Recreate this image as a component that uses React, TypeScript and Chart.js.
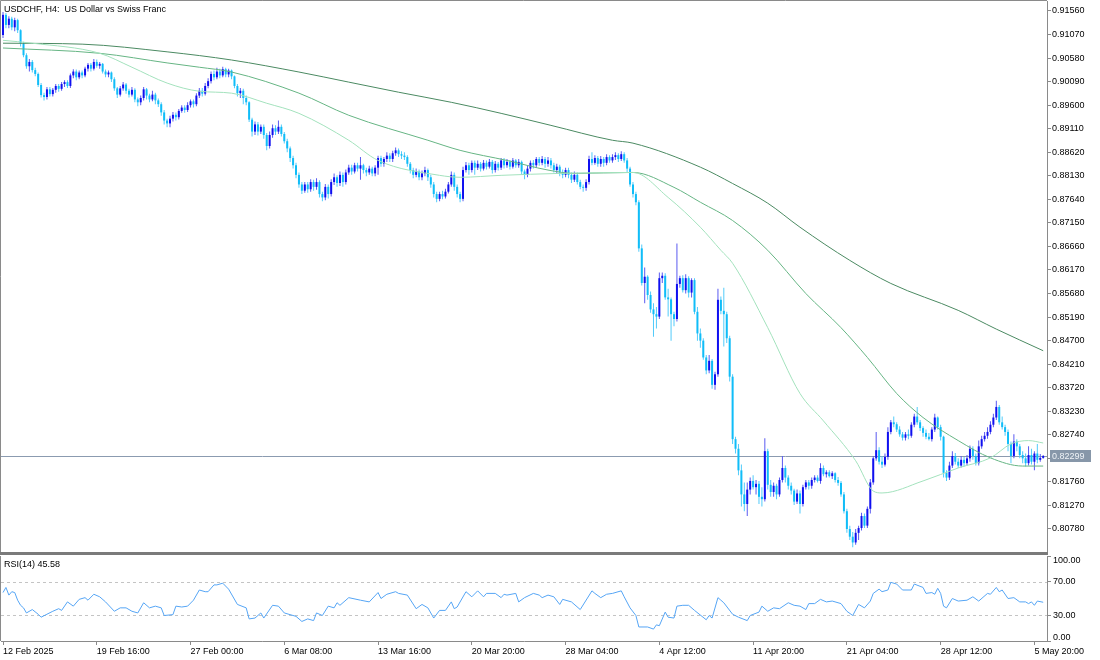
import React, { useEffect, useRef } from "react";
import { Chart, registerables } from "chart.js";

Chart.register(...registerables);

const SYMBOL_TITLE = "USDCHF, H4:  US Dollar vs Swiss Franc";
const RSI_TITLE = "RSI(14) 45.58";
const CURRENT_PRICE = 0.82299;

const opens = [
  0.9106,0.9148,0.9127,0.9140,0.9122,0.9137,0.9116,0.9089,0.9064,0.9041,
  0.9050,0.9033,0.9025,0.9002,0.8981,0.8977,0.8993,0.8983,0.8992,0.9000,
  0.8994,0.9004,0.9008,0.9000,0.9022,0.9030,0.9018,0.9028,0.9022,0.9036,
  0.9044,0.9036,0.9050,0.9042,0.9046,0.9030,0.9024,0.9028,0.9014,0.8995,
  0.8982,0.8995,0.9003,0.8990,0.8982,0.8992,0.8972,0.8966,0.8975,0.8993,
  0.8980,0.8972,0.8982,0.8970,0.8962,0.8945,0.8928,0.8922,0.8932,0.8940,
  0.8935,0.8948,0.8955,0.8950,0.8960,0.8968,0.8962,0.8980,0.8990,0.8984,
  0.9000,0.9010,0.9025,0.9018,0.9030,0.9022,0.9035,0.9024,0.9032,0.9020,
  0.9000,0.8985,0.8990,0.8975,0.8966,0.8930,0.8905,0.8920,0.8905,0.8915,
  0.8898,0.8875,0.8898,0.8912,0.8905,0.8915,0.8900,0.8885,0.8870,0.8850,
  0.8835,0.8815,0.8795,0.8782,0.8795,0.8785,0.8800,0.8790,0.8800,0.8775,
  0.8768,0.8790,0.8775,0.8800,0.8810,0.8798,0.8815,0.8800,0.8820,0.8830,
  0.8822,0.8835,0.8828,0.8835,0.8825,0.8820,0.8828,0.8818,0.8830,0.8850,
  0.8838,0.8848,0.8855,0.8848,0.8860,0.8866,0.8858,0.8855,0.8852,0.8838,
  0.8825,0.8815,0.8822,0.8810,0.8818,0.8825,0.8810,0.8795,0.8775,0.8765,
  0.8775,0.8770,0.8780,0.8795,0.8815,0.8790,0.8775,0.8765,0.8825,0.8835,
  0.8825,0.8840,0.8830,0.8838,0.8828,0.8840,0.8832,0.8842,0.8825,0.8838,
  0.8830,0.8845,0.8835,0.8842,0.8832,0.8845,0.8835,0.8842,0.8822,0.8815,
  0.8828,0.8840,0.8835,0.8848,0.8840,0.8848,0.8838,0.8845,0.8835,0.8825,
  0.8832,0.8820,0.8815,0.8825,0.8815,0.8805,0.8815,0.8800,0.8790,0.8788,
  0.8800,0.8848,0.8840,0.8850,0.8838,0.8848,0.8840,0.8852,0.8845,0.8852,
  0.8856,0.8848,0.8858,0.8845,0.8828,0.8795,0.8775,0.8758,0.8662,0.8590,
  0.8603,0.8565,0.8535,0.8525,0.8520,0.8600,0.8605,0.8560,0.8556,0.8525,
  0.8515,0.8588,0.8600,0.8575,0.8600,0.8570,0.8596,0.8530,0.8485,0.8470,
  0.8435,0.8408,0.8428,0.8378,0.8400,0.8555,0.8532,0.8525,0.8475,0.8395,
  0.8265,0.8245,0.8200,0.8150,0.8130,0.8160,0.8178,0.8165,0.8172,0.8145,
  0.8140,0.8240,0.8170,0.8155,0.8168,0.8150,0.8180,0.8205,0.8185,0.8168,
  0.8158,0.8135,0.8152,0.8130,0.8165,0.8175,0.8168,0.8180,0.8185,0.8178,
  0.8205,0.8192,0.8196,0.8188,0.8194,0.8180,0.8174,0.8150,0.8115,0.8078,
  0.8062,0.8050,0.8070,0.8080,0.8105,0.8085,0.8120,0.8175,0.8225,0.8242,
  0.8218,0.8212,0.8228,0.8280,0.8300,0.8296,0.8285,0.8275,0.8268,0.8275,
  0.8272,0.8295,0.8312,0.8300,0.8288,0.8278,0.8270,0.8265,0.8285,0.8310,
  0.8290,0.8270,0.8195,0.8185,0.8210,0.8230,0.8218,0.8210,0.8222,0.8215,
  0.8225,0.8245,0.8230,0.8215,0.8250,0.8265,0.8272,0.8280,0.8295,0.8310,
  0.8332,0.8300,0.8290,0.8280,0.8255,0.8230,0.8260,0.8250,0.8232,0.8225,
  0.8215,0.8232,0.8218,0.8235,0.8222,0.8226,
];

const highs = [
  0.9154,0.9152,0.9145,0.9144,0.9142,0.9140,0.9118,0.9092,0.9068,0.9056,
  0.9054,0.9038,0.9028,0.9006,0.8986,0.8998,0.8998,0.8996,0.9004,0.9004,
  0.9008,0.9012,0.9012,0.9026,0.9035,0.9034,0.9032,0.9032,0.9040,0.9048,
  0.9048,0.9056,0.9055,0.9050,0.9048,0.9034,0.9032,0.9030,0.9018,0.8998,
  0.9000,0.9008,0.9006,0.8994,0.8998,0.8995,0.8976,0.8980,0.8998,0.8996,
  0.8984,0.8990,0.8986,0.8974,0.8966,0.8950,0.8932,0.8938,0.8946,0.8945,
  0.8952,0.8960,0.8960,0.8966,0.8972,0.8972,0.8985,0.8996,0.8996,0.9006,
  0.9016,0.9030,0.9032,0.9038,0.9036,0.9040,0.9038,0.9036,0.9034,0.9022,
  0.9004,0.8996,0.8994,0.8980,0.8968,0.8934,0.8926,0.8925,0.8920,0.8920,
  0.8902,0.8905,0.8920,0.8918,0.8928,0.8920,0.8904,0.8890,0.8874,0.8855,
  0.8840,0.8820,0.8800,0.8800,0.8800,0.8806,0.8805,0.8808,0.8804,0.8780,
  0.8796,0.8795,0.8806,0.8818,0.8814,0.8822,0.8820,0.8826,0.8836,0.8836,
  0.8840,0.8840,0.8852,0.8838,0.8830,0.8834,0.8832,0.8835,0.8855,0.8855,
  0.8852,0.8862,0.8860,0.8865,0.8872,0.8870,0.8864,0.8862,0.8856,0.8842,
  0.8830,0.8828,0.8826,0.8824,0.8832,0.8828,0.8815,0.8800,0.8780,0.8780,
  0.8782,0.8786,0.8800,0.8822,0.8820,0.8795,0.8780,0.8832,0.8842,0.8840,
  0.8845,0.8845,0.8845,0.8842,0.8846,0.8845,0.8848,0.8846,0.8844,0.8842,
  0.8850,0.8850,0.8848,0.8846,0.8850,0.8848,0.8848,0.8845,0.8826,0.8835,
  0.8845,0.8846,0.8852,0.8852,0.8854,0.8852,0.8852,0.8850,0.8840,0.8838,
  0.8836,0.8826,0.8830,0.8830,0.8820,0.8822,0.8820,0.8805,0.8795,0.8806,
  0.8855,0.8862,0.8856,0.8854,0.8854,0.8852,0.8858,0.8856,0.8858,0.8862,
  0.8860,0.8864,0.8862,0.8850,0.8832,0.8800,0.8780,0.8762,0.8670,0.8622,
  0.8606,0.8572,0.8548,0.8540,0.8612,0.8612,0.8610,0.8578,0.8560,0.8530,
  0.8672,0.8605,0.8606,0.8608,0.8604,0.8600,0.8600,0.8540,0.8495,0.8475,
  0.8440,0.8440,0.8432,0.8405,0.8578,0.8562,0.8580,0.8530,0.8480,0.8400,
  0.8270,0.8255,0.8212,0.8175,0.8175,0.8185,0.8190,0.8180,0.8178,0.8165,
  0.8267,0.8245,0.8180,0.8175,0.8172,0.8185,0.8230,0.8210,0.8190,0.8175,
  0.8162,0.8160,0.8158,0.8170,0.8180,0.8180,0.8185,0.8190,0.8190,0.8215,
  0.8210,0.8200,0.8200,0.8198,0.8196,0.8186,0.8178,0.8155,0.8120,0.8085,
  0.8072,0.8078,0.8085,0.8112,0.8110,0.8125,0.8182,0.8230,0.8280,0.8248,
  0.8230,0.8235,0.8290,0.8305,0.8312,0.8300,0.8292,0.8280,0.8280,0.8285,
  0.8300,0.8318,0.8332,0.8305,0.8292,0.8285,0.8278,0.8290,0.8318,0.8312,
  0.8295,0.8272,0.8200,0.8218,0.8240,0.8236,0.8225,0.8230,0.8228,0.8232,
  0.8252,0.8250,0.8235,0.8262,0.8272,0.8280,0.8290,0.8302,0.8318,0.8345,
  0.8336,0.8312,0.8295,0.8285,0.8260,0.8275,0.8265,0.8255,0.8240,0.8235,
  0.8250,0.8245,0.8240,0.8255,0.8234,0.8232,
];

const lows = [
  0.9100,0.9120,0.9120,0.9116,0.9114,0.9110,0.9082,0.9060,0.9036,0.9030,
  0.9028,0.9020,0.8998,0.8976,0.8970,0.8972,0.8978,0.8978,0.8986,0.8988,
  0.8990,0.8998,0.8996,0.8996,0.9016,0.9012,0.9014,0.9016,0.9018,0.9030,
  0.9030,0.9032,0.9038,0.9036,0.9026,0.9018,0.9018,0.9008,0.8990,0.8975,
  0.8978,0.8990,0.8984,0.8976,0.8978,0.8966,0.8958,0.8960,0.8970,0.8972,
  0.8966,0.8968,0.8962,0.8956,0.8938,0.8920,0.8914,0.8914,0.8926,0.8928,
  0.8930,0.8944,0.8944,0.8946,0.8955,0.8955,0.8958,0.8975,0.8978,0.8980,
  0.8995,0.9005,0.9012,0.9014,0.9016,0.9018,0.9018,0.9018,0.9014,0.8995,
  0.8978,0.8975,0.8962,0.8960,0.8925,0.8895,0.8898,0.8897,0.8900,0.8890,
  0.8866,0.8870,0.8892,0.8898,0.8900,0.8895,0.8880,0.8862,0.8842,0.8828,
  0.8808,0.8788,0.8775,0.8778,0.8778,0.8780,0.8782,0.8784,0.8768,0.8760,
  0.8762,0.8766,0.8770,0.8794,0.8790,0.8792,0.8790,0.8795,0.8815,0.8815,
  0.8818,0.8822,0.8805,0.8818,0.8812,0.8815,0.8812,0.8812,0.8815,0.8832,
  0.8832,0.8842,0.8842,0.8842,0.8855,0.8852,0.8848,0.8846,0.8832,0.8818,
  0.8808,0.8810,0.8804,0.8804,0.8812,0.8802,0.8788,0.8768,0.8758,0.8760,
  0.8764,0.8766,0.8776,0.8790,0.8782,0.8768,0.8758,0.8760,0.8820,0.8815,
  0.8820,0.8815,0.8825,0.8822,0.8824,0.8826,0.8828,0.8818,0.8820,0.8824,
  0.8825,0.8828,0.8830,0.8826,0.8828,0.8830,0.8830,0.8815,0.8806,0.8810,
  0.8822,0.8828,0.8830,0.8834,0.8835,0.8830,0.8832,0.8828,0.8820,0.8818,
  0.8812,0.8808,0.8810,0.8808,0.8798,0.8800,0.8795,0.8785,0.8780,0.8782,
  0.8795,0.8835,0.8836,0.8832,0.8832,0.8832,0.8835,0.8840,0.8840,0.8846,
  0.8842,0.8844,0.8840,0.8820,0.8790,0.8768,0.8752,0.8655,0.8585,0.8548,
  0.8555,0.8528,0.8478,0.8495,0.8515,0.8590,0.8555,0.8520,0.8470,0.8500,
  0.8510,0.8580,0.8570,0.8568,0.8560,0.8560,0.8525,0.8470,0.8455,0.8430,
  0.8400,0.8402,0.8370,0.8368,0.8395,0.8525,0.8458,0.8465,0.8385,0.8255,
  0.8235,0.8190,0.8125,0.8115,0.8105,0.8150,0.8160,0.8150,0.8130,0.8125,
  0.8135,0.8160,0.8145,0.8145,0.8140,0.8145,0.8175,0.8175,0.8160,0.8150,
  0.8128,0.8130,0.8110,0.8125,0.8160,0.8160,0.8162,0.8175,0.8175,0.8172,
  0.8188,0.8185,0.8185,0.8182,0.8175,0.8168,0.8145,0.8110,0.8070,0.8055,
  0.8040,0.8045,0.8055,0.8075,0.8080,0.8080,0.8110,0.8170,0.8220,0.8212,
  0.8205,0.8208,0.8222,0.8275,0.8290,0.8280,0.8270,0.8262,0.8262,0.8265,
  0.8268,0.8290,0.8295,0.8282,0.8270,0.8265,0.8262,0.8260,0.8280,0.8285,
  0.8262,0.8185,0.8178,0.8180,0.8205,0.8212,0.8205,0.8206,0.8208,0.8210,
  0.8218,0.8222,0.8210,0.8210,0.8245,0.8260,0.8266,0.8275,0.8290,0.8305,
  0.8295,0.8285,0.8272,0.8240,0.8215,0.8225,0.8240,0.8225,0.8215,0.8208,
  0.8210,0.8212,0.8200,0.8215,0.8218,0.8224,
];

const closes = [
  0.9148,0.9127,0.9140,0.9122,0.9137,0.9116,0.9089,0.9064,0.9041,0.9050,
  0.9033,0.9025,0.9002,0.8981,0.8977,0.8993,0.8983,0.8992,0.9000,0.8994,
  0.9004,0.9008,0.9000,0.9022,0.9030,0.9018,0.9028,0.9022,0.9036,0.9044,
  0.9036,0.9050,0.9042,0.9046,0.9030,0.9024,0.9028,0.9014,0.8995,0.8982,
  0.8995,0.9003,0.8990,0.8982,0.8992,0.8972,0.8966,0.8975,0.8993,0.8980,
  0.8972,0.8982,0.8970,0.8962,0.8945,0.8928,0.8922,0.8932,0.8940,0.8935,
  0.8948,0.8955,0.8950,0.8960,0.8968,0.8962,0.8980,0.8990,0.8984,0.9000,
  0.9010,0.9025,0.9018,0.9030,0.9022,0.9035,0.9024,0.9032,0.9020,0.9000,
  0.8985,0.8990,0.8975,0.8966,0.8930,0.8905,0.8920,0.8905,0.8915,0.8898,
  0.8875,0.8898,0.8912,0.8905,0.8915,0.8900,0.8885,0.8870,0.8850,0.8835,
  0.8815,0.8795,0.8782,0.8795,0.8785,0.8800,0.8790,0.8800,0.8775,0.8768,
  0.8790,0.8775,0.8800,0.8810,0.8798,0.8815,0.8800,0.8820,0.8830,0.8822,
  0.8835,0.8828,0.8835,0.8825,0.8820,0.8828,0.8818,0.8830,0.8850,0.8838,
  0.8848,0.8855,0.8848,0.8860,0.8866,0.8858,0.8855,0.8852,0.8838,0.8825,
  0.8815,0.8822,0.8810,0.8818,0.8825,0.8810,0.8795,0.8775,0.8765,0.8775,
  0.8770,0.8780,0.8795,0.8815,0.8790,0.8775,0.8765,0.8825,0.8835,0.8825,
  0.8840,0.8830,0.8838,0.8828,0.8840,0.8832,0.8842,0.8825,0.8838,0.8830,
  0.8845,0.8835,0.8842,0.8832,0.8845,0.8835,0.8842,0.8822,0.8815,0.8828,
  0.8840,0.8835,0.8848,0.8840,0.8848,0.8838,0.8845,0.8835,0.8825,0.8832,
  0.8820,0.8815,0.8825,0.8815,0.8805,0.8815,0.8800,0.8790,0.8788,0.8800,
  0.8848,0.8840,0.8850,0.8838,0.8848,0.8840,0.8852,0.8845,0.8852,0.8856,
  0.8848,0.8858,0.8845,0.8828,0.8795,0.8775,0.8758,0.8662,0.8590,0.8603,
  0.8565,0.8535,0.8525,0.8520,0.8600,0.8605,0.8560,0.8556,0.8525,0.8515,
  0.8588,0.8600,0.8575,0.8600,0.8570,0.8596,0.8530,0.8485,0.8470,0.8435,
  0.8408,0.8428,0.8378,0.8400,0.8555,0.8532,0.8525,0.8475,0.8395,0.8265,
  0.8245,0.8200,0.8150,0.8130,0.8160,0.8178,0.8165,0.8172,0.8145,0.8140,
  0.8240,0.8170,0.8155,0.8168,0.8150,0.8180,0.8205,0.8185,0.8168,0.8158,
  0.8135,0.8152,0.8130,0.8165,0.8175,0.8168,0.8180,0.8185,0.8178,0.8205,
  0.8192,0.8196,0.8188,0.8194,0.8180,0.8174,0.8150,0.8115,0.8078,0.8062,
  0.8050,0.8070,0.8080,0.8105,0.8085,0.8120,0.8175,0.8225,0.8242,0.8218,
  0.8212,0.8228,0.8280,0.8300,0.8296,0.8285,0.8275,0.8268,0.8275,0.8272,
  0.8295,0.8312,0.8300,0.8288,0.8278,0.8270,0.8265,0.8285,0.8310,0.8290,
  0.8270,0.8195,0.8185,0.8210,0.8230,0.8218,0.8210,0.8222,0.8215,0.8225,
  0.8245,0.8230,0.8215,0.8250,0.8265,0.8272,0.8280,0.8295,0.8310,0.8332,
  0.8300,0.8290,0.8280,0.8255,0.8230,0.8260,0.8250,0.8232,0.8225,0.8215,
  0.8232,0.8218,0.8235,0.8222,0.8226,0.82299,
];

// Moving averages, sampled at bar indices
const maSlowIdx = [0,27,56,78,101,118,135,153,170,187,208,215,238,249,261,272,289,303,326,339,355];
const maSlowVal = [0.9089,0.9087,0.9071,0.9054,0.9029,0.9008,0.8987,0.8966,0.8943,0.8918,0.8887,0.8881,0.8831,0.8797,0.8756,0.8706,0.8637,0.8589,0.8533,0.8494,0.8449];

const maMidIdx = [0,33,56,67,78,101,118,145,156,172,186,195,215,229,238,249,261,274,286,295,305,314,326,337,348,355];
const maMidVal = [0.9079,0.9068,0.9048,0.9039,0.9029,0.8985,0.8939,0.8887,0.8866,0.8845,0.8825,0.8818,0.8820,0.8789,0.8758,0.8720,0.8658,0.8568,0.8497,0.8435,0.8360,0.8310,0.8262,0.8226,0.8209,0.8209];

const maFastIdx = [0,10,33,44,56,67,78,90,101,118,128,149,156,170,190,215,227,238,245,249,261,272,280,291,297,300,314,326,337,344,350,355];
const maFastVal = [0.9095,0.9089,0.9068,0.9039,0.9006,0.8989,0.8985,0.8964,0.8943,0.8887,0.8845,0.8814,0.8810,0.8814,0.8818,0.8820,0.8768,0.8706,0.8658,0.8631,0.8497,0.8360,0.8303,0.8220,0.8157,0.8153,0.8178,0.8205,0.8226,0.8255,0.8262,0.8257];

// RSI(14), sampled at bar indices
const rsiIdx = [
  0,1,2,3,4,5,6,7,8,10,
  12,13,15,17,19,20,22,24,26,28,
  29,31,33,35,38,40,42,44,46,48,
  50,52,54,55,58,59,61,63,65,67,
  69,70,72,73,75,77,80,83,84,86,
  88,89,92,94,96,100,102,104,106,107,
  109,111,113,114,115,118,122,125,128,129,
  131,134,135,138,141,143,145,147,149,151,
  153,154,155,158,160,162,164,165,168,170,
  171,172,175,176,178,181,183,184,186,188,
  190,191,194,197,201,202,204,206,208,211,
  212,214,216,217,220,222,223,224,226,227,
  229,230,232,234,236,240,241,242,244,245,
  246,249,251,254,255,258,259,261,263,265,
  268,270,272,274,275,277,279,281,283,286,
  288,290,292,294,296,297,299,300,302,303,
  305,307,310,311,314,315,317,318,319,320,
  321,322,324,326,329,331,333,336,337,339,
  340,341,343,345,347,349,350,351,352,353,
  355,
];
const rsiVal = [
  57,63,54,58,57,48,42,39,33,37,
  31.5,28,31.5,35,38,36,46,41,49,51,
  48,55,52,46,35,39,39,35,33,45,
  39,41,39,30,31,41,40,41,48,60,
  58,58,66,66,68,61,43,39,26,27,
  33,27,42,41,33,29,23,26,24,33,
  30,41,39,45,42,51,48,46,57,50,
  55,58,56,54,38,43,39,27,36,36,
  46,38,40,58,52,59,52,56,56,51,
  55,54,56,46,51,56,54,51,54,52,
  43,49,46,37,59,56,51,55,56,59,
  52,39,30,16.5,16.5,14,19,18,34,28,
  27,41,42,42,36,25,30,27,51,48,
  45,31.5,28,24,30,34,41,35,39,38,
  45,42,41,37,44,44,49,46,47,44,
  35,30,43,39,47,56,61,58,60,69,
  67,60,60,67,63,56,57,55,62,56,
  41,39,50,47,48,52,47,56,55,63,
  58,60,50,51,46,46,44,46,42,47,
  45.58,
];

const priceTicks = [
  0.9156,0.9107,0.9058,0.9009,0.8960,0.8911,0.8862,0.8813,0.8764,0.8715,0.8666,0.8617,
  0.8568,0.8519,0.8470,0.8421,0.8372,0.8323,0.8274,0.8225,0.8176,0.8127,0.8078,
];
const rsiTicks = [0, 30, 70, 100];
const rsiLevels = [30, 70];
const xTickIdx = [0,32,64,96,128,160,192,224,256,288,320,352];
const xTickLabels = [
  "12 Feb 2025","19 Feb 16:00","27 Feb 00:00","6 Mar 08:00","13 Mar 16:00","20 Mar 20:00",
  "28 Mar 04:00","4 Apr 12:00","11 Apr 20:00","21 Apr 04:00","28 Apr 12:00","5 May 20:00",
];

const X_MIN = -0.683;
const X_MAX = 356.3;
const Y_MIN = 0.803013;
const Y_MAX = 0.917681;
const FONT = "'Liberation Sans', Arial, sans-serif";
const AXIS_GRAY = "#8a8a8a";

const BULL_BODY = "#1010f0";
const BEAR_BODY = "#10bdf8";
const BULL_WICK = "#5a5af0";
const BEAR_WICK = "#52cbfa";
const MA_FAST = "#a3e2bd";
const MA_MID = "#66b584";
const MA_SLOW = "#4b8a62";
const RSI_COLOR = "#55a5f5";

export default function App() {
  const mainRef = useRef<HTMLCanvasElement | null>(null);
  const rsiRef = useRef<HTMLCanvasElement | null>(null);

  useEffect(() => {
    const bull = closes.map((c, i) => c >= opens[i]);
    const wickData = closes.map((_, i) => ({ x: i, y: [lows[i], highs[i]] }));
    const bodyData = closes.map((c, i) => ({ x: i, y: [opens[i], c] }));
    const toPts = (idx: number[], val: number[]) => idx.map((x, k) => ({ x, y: val[k] }));

    const mainDecor = {
      id: "mainDecor",
      beforeDatasetsDraw(chart: any) {
        const { ctx, chartArea: a, scales } = chart;
        const py = Math.round(scales.y.getPixelForValue(CURRENT_PRICE)) + 0.5;
        ctx.save();
        ctx.strokeStyle = "#8b9bb0";
        ctx.lineWidth = 1;
        ctx.beginPath();
        ctx.moveTo(a.left, py);
        ctx.lineTo(a.right, py);
        ctx.stroke();
        ctx.restore();
      },
      afterDraw(chart: any) {
        const { ctx, chartArea: a, scales } = chart;
        ctx.save();
        ctx.strokeStyle = AXIS_GRAY;
        ctx.lineWidth = 1;
        ctx.beginPath();
        ctx.moveTo(0.5, a.bottom);
        ctx.lineTo(0.5, 0.5);
        ctx.lineTo(a.right, 0.5);
        ctx.stroke();
        ctx.fillStyle = "#7a7a7a";
        ctx.fillRect(0, a.bottom, a.right + 1, 3);
        ctx.fillStyle = "#000";
        ctx.font = `9px ${FONT}`;
        ctx.textAlign = "left";
        ctx.textBaseline = "alphabetic";
        ctx.fillText(SYMBOL_TITLE, 4, 12);
        const py = Math.round(scales.y.getPixelForValue(CURRENT_PRICE));
        ctx.fillStyle = "#8797a9";
        ctx.fillRect(a.right + 3, py - 6, 41, 12);
        ctx.fillStyle = "#eef2f6";
        ctx.textBaseline = "middle";
        ctx.fillText(CURRENT_PRICE.toFixed(5), a.right + 5, py + 0.5);
        ctx.restore();
      },
    };

    const rsiDecor = {
      id: "rsiDecor",
      beforeDatasetsDraw(chart: any) {
        const { ctx, chartArea: a, scales } = chart;
        ctx.save();
        ctx.strokeStyle = "#c4c4c4";
        ctx.lineWidth = 1;
        ctx.setLineDash([3, 3]);
        for (const lv of rsiLevels) {
          const py = Math.round(scales.y.getPixelForValue(lv)) + 0.5;
          ctx.beginPath();
          ctx.moveTo(a.left, py);
          ctx.lineTo(a.right, py);
          ctx.stroke();
        }
        ctx.restore();
      },
      afterDraw(chart: any) {
        const { ctx, chartArea: a, scales } = chart;
        ctx.save();
        ctx.strokeStyle = AXIS_GRAY;
        ctx.lineWidth = 1;
        ctx.beginPath();
        ctx.moveTo(0.5, 0);
        ctx.lineTo(0.5, a.bottom);
        ctx.stroke();
        ctx.fillStyle = "#000";
        ctx.font = `9px ${FONT}`;
        ctx.textAlign = "left";
        ctx.textBaseline = "alphabetic";
        ctx.fillText(RSI_TITLE, 4, 11);
        ctx.textBaseline = "middle";
        for (const v of rsiTicks) {
          let py = scales.y.getPixelForValue(v);
          py = Math.min(Math.max(py, a.top + 4.5), a.bottom - 3.5);
          ctx.fillText(v.toFixed(2), a.right + 6, py);
        }
        ctx.restore();
      },
    };

    const xBase: any = { type: "linear", min: X_MIN, max: X_MAX, offset: false, bounds: "data" };

    const main = new Chart(mainRef.current as HTMLCanvasElement, {
      type: "bar",
      data: {
        datasets: [
          {
            type: "bar",
            data: wickData as any,
            backgroundColor: bull.map((b) => (b ? BULL_WICK : BEAR_WICK)),
            barThickness: 1,
            grouped: false,
            inflateAmount: 0,
            order: 4,
          } as any,
          {
            type: "bar",
            data: bodyData as any,
            backgroundColor: bull.map((b) => (b ? BULL_BODY : BEAR_BODY)),
            barThickness: 2,
            grouped: false,
            minBarLength: 1,
            inflateAmount: 0,
            order: 3,
          } as any,
          {
            type: "line",
            data: toPts(maSlowIdx, maSlowVal) as any,
            borderColor: MA_SLOW,
            borderWidth: 1,
            pointRadius: 0,
            cubicInterpolationMode: "monotone",
            order: 2,
          } as any,
          {
            type: "line",
            data: toPts(maMidIdx, maMidVal) as any,
            borderColor: MA_MID,
            borderWidth: 1,
            pointRadius: 0,
            cubicInterpolationMode: "monotone",
            order: 1,
          } as any,
          {
            type: "line",
            data: toPts(maFastIdx, maFastVal) as any,
            borderColor: MA_FAST,
            borderWidth: 1,
            pointRadius: 0,
            cubicInterpolationMode: "monotone",
            order: 0,
          } as any,
        ],
      },
      options: {
        animation: false,
        responsive: false,
        devicePixelRatio: 1,
        events: [],
        layout: { padding: { left: 1, top: 1, right: 0, bottom: 4 } },
        plugins: { legend: { display: false }, tooltip: { enabled: false } },
        scales: {
          x: { ...xBase, display: false },
          y: {
            type: "linear",
            position: "right",
            min: Y_MIN,
            max: Y_MAX,
            bounds: "data",
            afterBuildTicks: (s: any) => {
              s.ticks = priceTicks.map((v) => ({ value: v }));
            },
            afterFit: (s: any) => {
              s.width = 53;
              s.paddingTop = 0;
              s.paddingBottom = 0;
            },
            grid: { drawOnChartArea: false, drawTicks: true, tickLength: 4, color: AXIS_GRAY },
            border: { display: true, color: AXIS_GRAY },
            ticks: {
              autoSkip: false,
              padding: 1,
              color: "#000",
              font: { family: FONT, size: 9 },
              callback: (v: any) => Number(v).toFixed(5),
            },
          } as any,
        },
      } as any,
      plugins: [mainDecor],
    });

    const rsi = new Chart(rsiRef.current as HTMLCanvasElement, {
      type: "line",
      data: {
        datasets: [
          {
            data: toPts(rsiIdx, rsiVal) as any,
            borderColor: RSI_COLOR,
            borderWidth: 1,
            pointRadius: 0,
            tension: 0,
          },
        ],
      },
      options: {
        animation: false,
        responsive: false,
        devicePixelRatio: 1,
        events: [],
        layout: { padding: { left: 1, top: 0, right: 0, bottom: 0 } },
        plugins: { legend: { display: false }, tooltip: { enabled: false } },
        scales: {
          x: {
            ...xBase,
            position: "bottom",
            afterBuildTicks: (s: any) => {
              s.ticks = xTickIdx.map((v) => ({ value: v }));
            },
            afterFit: (s: any) => {
              s.height = 19;
              s.paddingLeft = 0;
              s.paddingRight = 0;
            },
            grid: { drawOnChartArea: false, drawTicks: true, tickLength: 4, color: AXIS_GRAY },
            border: { display: true, color: AXIS_GRAY },
            ticks: {
              autoSkip: false,
              maxRotation: 0,
              minRotation: 0,
              align: "start",
              padding: 1,
              color: "#000",
              font: { family: FONT, size: 9 },
              callback: (_v: any, i: number) => xTickLabels[i],
            },
          },
          y: {
            type: "linear",
            position: "right",
            min: 0,
            max: 100,
            bounds: "data",
            afterBuildTicks: (s: any) => {
              s.ticks = rsiTicks.map((v) => ({ value: v }));
            },
            afterFit: (s: any) => {
              s.width = 53;
              s.paddingTop = 0;
              s.paddingBottom = 0;
            },
            grid: { drawOnChartArea: false, drawTicks: true, tickLength: 4, color: AXIS_GRAY },
            border: { display: true, color: AXIS_GRAY },
            ticks: { display: false },
          },
        },
      } as any,
      plugins: [rsiDecor],
    });

    return () => {
      main.destroy();
      rsi.destroy();
    };
  }, []);

  return (
    <div style={{ position: "fixed", left: 0, top: 0, width: 1100, height: 660, background: "#fff" }}>
      <canvas ref={mainRef} width={1100} height={556} style={{ position: "absolute", left: 0, top: 0 }} />
      <canvas ref={rsiRef} width={1100} height={104} style={{ position: "absolute", left: 0, top: 556 }} />
    </div>
  );
}
